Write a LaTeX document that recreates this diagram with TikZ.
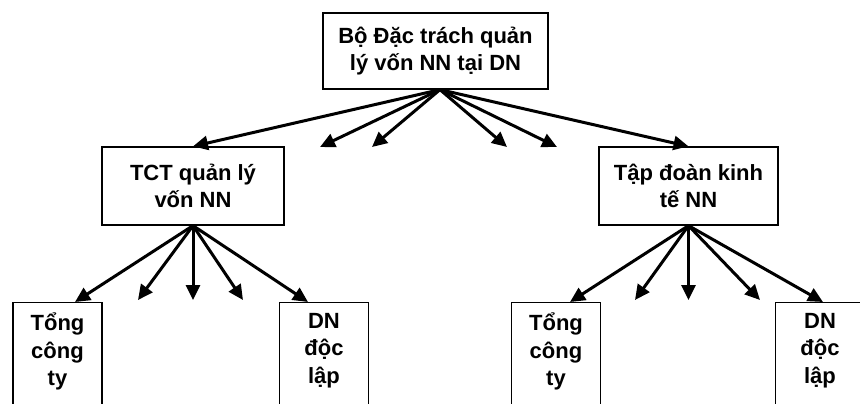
\documentclass[tikz,border=0pt]{standalone}
\usepackage{fontspec}
\setmainfont{Liberation Sans}
\usetikzlibrary{arrows.meta}
\begin{document}
\begin{tikzpicture}[x=1pt,y=-1pt,
  box/.style={draw=black, line width=1.3pt, rectangle, inner sep=0pt, align=center,
    font=\fontsize{22}{27}\selectfont\bfseries},
  leafbox/.style={draw=black, line width=1.3pt, rectangle, inner sep=0pt, anchor=north,
    minimum width=89pt, minimum height=140pt},
  leaftext/.style={anchor=north, align=center, inner sep=0pt,
    font=\fontsize{22}{27.5}\selectfont\bfseries},
  link/.style={line width=3pt, -{Triangle[length=15pt,width=14pt]}}]
\useasboundingbox (0,0) rectangle (860,404);
\clip (0,0) rectangle (860,404);
\fill[white] (0,0) rectangle (860,404);

% main boxes
\node[box, minimum width=225pt, minimum height=76pt] (top) at (435.5,51) {Bộ Đặc trách quản\\lý vốn NN tại DN};
\node[box, minimum width=182pt, minimum height=78pt] (tct) at (193,186) {TCT quản lý\\vốn NN};
\node[box, minimum width=179pt, minimum height=78pt] (tdoan) at (688.5,186) {Tập đoàn kinh\\tế NN};

% lower boxes, running off the bottom edge
\node[leafbox] (tong1) at (57.5,302) {};
\node[leafbox] (dn1) at (324,302) {};
\node[leafbox] (tong2) at (556,302) {};
\node[leafbox] (dn2) at (820,302) {};
\node[leaftext] (tong1t) at (tong1.north) [yshift=-11pt] {Tổng\\công\\ty};
\node[leaftext] (dn1t) at (dn1.north) [yshift=-11pt] {DN\\độc\\lập};
\node[leaftext] (tong2t) at (tong2.north) [yshift=-11pt] {Tổng\\công\\ty};
\node[leaftext] (dn2t) at (dn2.north) [yshift=-11pt] {DN\\độc\\lập};

% open arrow ends
\coordinate (a1) at (320,147);
\coordinate (a2) at (372,147);
\coordinate (a3) at (507,147);
\coordinate (a4) at (557,147);
\coordinate (b1) at (138,300);
\coordinate (b2) at (193,300);
\coordinate (b3) at (243,300);
\coordinate (c1) at (635,300);
\coordinate (c2) at (688.5,300);
\coordinate (c3) at (760,300);

% arrows from the top box
\coordinate (topfoot) at ([xshift=4.5pt]top.south);
\draw[link] (topfoot) -- (tct.north);
\draw[link] (topfoot) -- (a1);
\draw[link] (topfoot) -- (a2);
\draw[link] (topfoot) -- (a3);
\draw[link] (topfoot) -- (a4);
\draw[link] (topfoot) -- (tdoan.north);

% arrows from TCT
\draw[link] (tct.south) -- ([xshift=17.5pt]tong1.north);
\draw[link] (tct.south) -- (b1);
\draw[link] (tct.south) -- (b2);
\draw[link] (tct.south) -- (b3);
\draw[link] (tct.south) -- ([xshift=-16pt]dn1.north);

% arrows from the group
\draw[link] (tdoan.south) -- ([xshift=14pt]tong2.north);
\draw[link] (tdoan.south) -- (c1);
\draw[link] (tdoan.south) -- (c2);
\draw[link] (tdoan.south) -- (c3);
\draw[link] (tdoan.south) -- ([xshift=3pt]dn2.north);
\end{tikzpicture}
\end{document}
